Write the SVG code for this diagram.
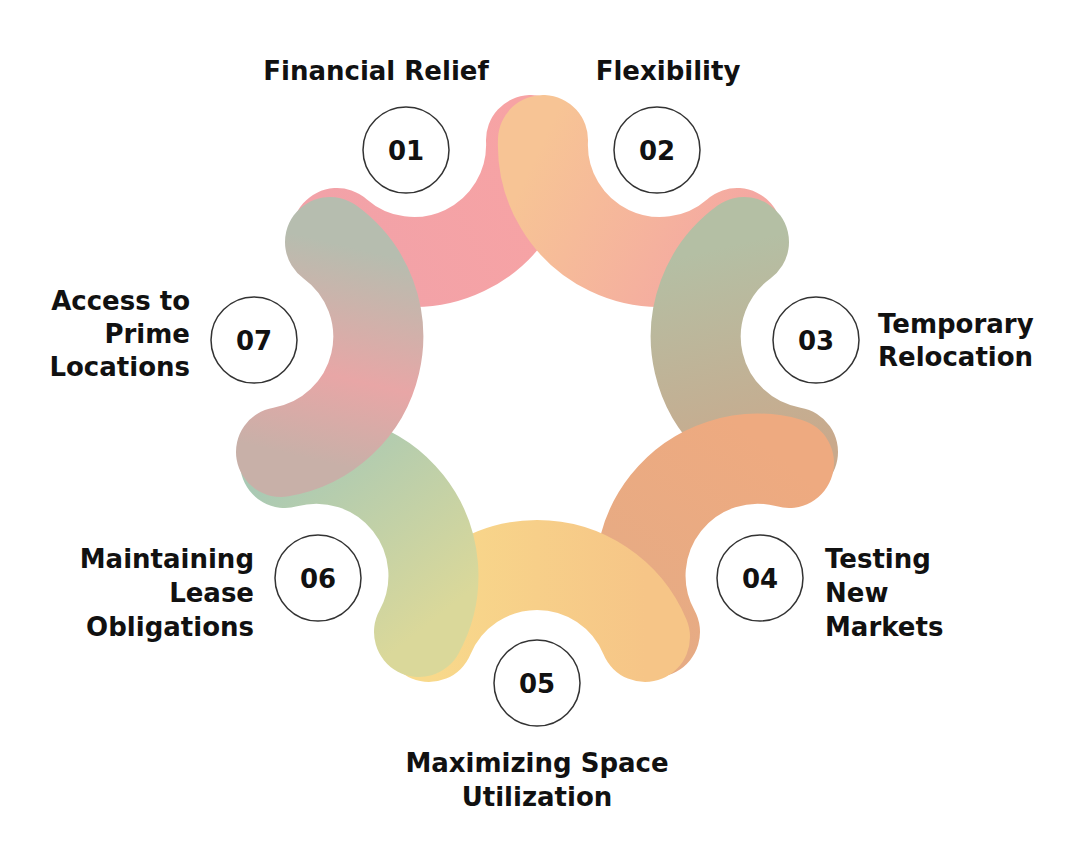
<svg xmlns="http://www.w3.org/2000/svg" width="1080" height="850" viewBox="0 0 1080 850">
<style>
.seg{fill:none;stroke-width:90;stroke-linecap:round}
.nc{fill:#fff;stroke:#333;stroke-width:1.5}
.num{font-family:"DejaVu Sans",sans-serif;font-weight:bold;font-size:26px;fill:#111;text-anchor:middle}
.lb{font-family:"DejaVu Sans",sans-serif;font-weight:bold;font-size:26px;fill:#111}
</style>
<defs>
<linearGradient id="g1" gradientUnits="userSpaceOnUse" x1="531" y1="140" x2="337" y2="233"><stop offset="0" stop-color="#f7a3a4"/><stop offset="1" stop-color="#f2a2a8"/></linearGradient>
<linearGradient id="g2" gradientUnits="userSpaceOnUse" x1="737" y1="233" x2="543" y2="140"><stop offset="0" stop-color="#f4a8a2"/><stop offset="1" stop-color="#f7c495"/></linearGradient>
<linearGradient id="g3" gradientUnits="userSpaceOnUse" x1="793" y1="452" x2="744" y2="242"><stop offset="0" stop-color="#c9a98c"/><stop offset="1" stop-color="#b4bfa4"/></linearGradient>
<linearGradient id="g4" gradientUnits="userSpaceOnUse" x1="655" y1="632" x2="789" y2="463"><stop offset="0" stop-color="#e6ab84"/><stop offset="1" stop-color="#eeaa80"/></linearGradient>
<linearGradient id="g5" gradientUnits="userSpaceOnUse" x1="429" y1="637" x2="645" y2="637"><stop offset="0" stop-color="#f8d98b"/><stop offset="1" stop-color="#f6c587"/></linearGradient>
<linearGradient id="g6" gradientUnits="userSpaceOnUse" x1="285" y1="463" x2="419" y2="632"><stop offset="0" stop-color="#a9c9b4"/><stop offset="1" stop-color="#dad89a"/></linearGradient>
<linearGradient id="g7" gradientUnits="userSpaceOnUse" x1="330" y1="242" x2="281" y2="452"><stop offset="0" stop-color="#b6bdaf"/><stop offset="0.6" stop-color="#e8a6a6"/><stop offset="1" stop-color="#c8b0a8"/></linearGradient>
</defs>
<g id="connectors">
<path class="seg" stroke="url(#g1)" d="M531,140 A117,117 0 0 1 337,233"/>
<path class="seg" stroke="url(#g2)" d="M737,233 A117,117 0 0 1 543,140"/>
<path class="seg" stroke="url(#g3)" d="M793,452 A117,117 0 0 1 744,242"/>
<path class="seg" stroke="url(#g4)" d="M655,632 A117,117 0 0 1 789,463"/>
<path class="seg" stroke="url(#g5)" d="M429,637 A117,117 0 0 1 645,637"/>
<path class="seg" stroke="url(#g6)" d="M285,463 A117,117 0 0 1 419,632"/>
<path class="seg" stroke="url(#g7)" d="M330,242 A117,117 0 0 1 281,452"/>
</g>
<g id="n1"><circle class="nc" cx="406" cy="150" r="43"/><text class="num" x="406" y="160">01</text><text class="lb" x="376" y="80" text-anchor="middle">Financial Relief</text></g>
<g id="n2"><circle class="nc" cx="657" cy="150" r="43"/><text class="num" x="657" y="160">02</text><text class="lb" x="668" y="80" text-anchor="middle">Flexibility</text></g>
<g id="n3"><circle class="nc" cx="816" cy="340" r="43"/><text class="num" x="816" y="350">03</text><text class="lb" x="878" y="333">Temporary</text><text class="lb" x="878" y="366">Relocation</text></g>
<g id="n4"><circle class="nc" cx="760" cy="578" r="43"/><text class="num" x="760" y="588">04</text><text class="lb" x="825" y="568">Testing</text><text class="lb" x="825" y="602">New</text><text class="lb" x="825" y="636">Markets</text></g>
<g id="n5"><circle class="nc" cx="537" cy="683" r="43"/><text class="num" x="537" y="693">05</text><text class="lb" x="537" y="772" text-anchor="middle">Maximizing Space</text><text class="lb" x="537" y="806" text-anchor="middle">Utilization</text></g>
<g id="n6"><circle class="nc" cx="318" cy="578" r="43"/><text class="num" x="318" y="588">06</text><g text-anchor="end"><text class="lb" x="254" y="568">Maintaining</text><text class="lb" x="254" y="602">Lease</text><text class="lb" x="254" y="636">Obligations</text></g></g>
<g id="n7"><circle class="nc" cx="254" cy="340" r="43"/><text class="num" x="254" y="350">07</text><g text-anchor="end"><text class="lb" x="190" y="310">Access to</text><text class="lb" x="190" y="343">Prime</text><text class="lb" x="190" y="376">Locations</text></g></g>
</svg>
